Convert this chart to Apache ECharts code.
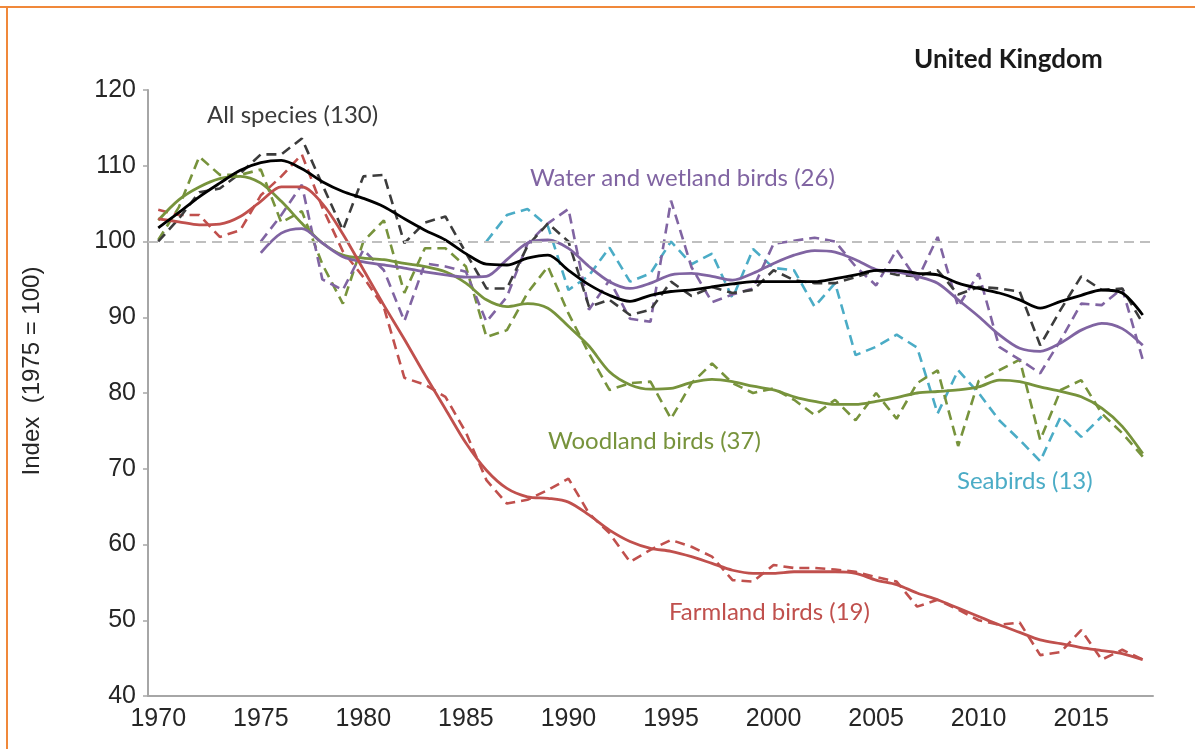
<!DOCTYPE html>
<html>
<head>
<meta charset="utf-8">
<script src="https://cdn.jsdelivr.net/npm/echarts@6/dist/echarts.min.js"></script>
<style>
html,body{margin:0;padding:0;background:#fff;}
#chart{width:1195px;height:749px;}
</style>
</head>
<body>
<div id="chart"></div>
<script>
const years = ['1970','1971','1972','1973','1974','1975','1976','1977','1978','1979',
  '1980','1981','1982','1983','1984','1985','1986','1987','1988','1989',
  '1990','1991','1992','1993','1994','1995','1996','1997','1998','1999',
  '2000','2001','2002','2003','2004','2005','2006','2007','2008','2009',
  '2010','2011','2012','2013','2014','2015','2016','2017','2018'];

const allAnnual = [100,103,106.5,107,109,111.5,111.5,113.6,107.5,101.5,
  108.6,108.8,99.8,102.5,103.3,98.5,93.8,93.8,99.4,102.4,
  100,91.4,92.3,90.3,91,94.7,92.8,94,93.2,93.6,
  96.2,94.9,94.5,94.5,95.3,96.2,95.6,95.4,96.2,93,
  94,93.8,93.4,86.3,91,95.4,93.6,93.8,89.2];
const allSmoothed = [101.8,103.8,105.9,107.7,109.4,110.4,110.7,109.6,107.9,106.6,
  105.7,104.6,103.0,101.5,100.2,98.4,97,96.9,97.8,98.2,
  96.2,94.3,92.9,92.1,92.9,93.4,93.6,94,94.4,94.7,
  94.7,94.7,94.7,95.1,95.6,96.2,96.2,95.8,95.6,94.5,
  93.8,93.2,92.3,91.2,92.1,92.9,93.6,93.2,90.3];

const farmAnnual = [104.2,103.5,103.5,100.6,101.5,106.1,108.6,111.5,104.5,98.7,
  95.3,91.3,82,81.1,79.5,74.8,68.5,65.4,65.9,67.2,
  68.7,64.1,61.5,57.7,59.3,60.6,59.7,58.4,55.3,55.1,
  57.3,56.9,56.9,56.7,56.4,55.7,55.1,51.8,52.7,51.4,
  50,49.4,49.7,45.4,45.8,48.7,44.8,46.1,44.8];
const farmSmoothed = [103,102.6,102.2,102.3,103.3,105.3,107.2,107.2,105,101,
  96.3,91.6,87.1,82.4,77.9,73.4,69.8,67.4,66.3,66.1,
  65.6,63.9,61.9,60.4,59.5,59.1,58.4,57.5,56.6,56.2,
  56.2,56.4,56.4,56.4,56.2,55.3,54.7,53.6,52.7,51.6,
  50.5,49.4,48.4,47.4,46.9,46.4,46,45.6,44.8];

const woodAnnual = [100.2,104.5,111.2,108.8,108.8,109.5,102.5,104,97,91.8,
  100,102.8,93.2,99.1,99.1,96.7,87.4,88.3,93.2,96.7,
  90.5,85.2,80.4,81.3,81.5,76.6,81.3,83.9,81.3,80,
  80.6,79.1,77.1,79.1,76.4,80,76.6,81.3,83,73,
  81.6,83,84.4,73.8,80.4,81.7,77.3,74.7,71.6];
const woodSmoothed = [102.8,105.5,107.2,108.3,108.6,107.7,105.3,102.4,99.8,98.2,
  97.8,97.6,97.1,96.7,96,94.5,92.3,91.4,91.8,91.2,
  88.8,86.2,82.8,81.1,80.5,80.6,81.4,81.8,81.5,80.9,
  80.4,79.5,78.9,78.5,78.5,78.9,79.4,80,80.2,80.4,
  80.8,81.7,81.5,80.8,80.2,79.5,78,75.6,72];

const waterAnnual = [null,null,null,null,null,100,103.5,107.5,95,93.6,
  98.9,96.2,89.5,97.1,96.7,96,89.4,92.7,99.7,102.4,
  104.3,91,94.9,89.8,89.4,105.4,96.6,92,93,93.8,
  99.7,100.1,100.5,100,96.7,94.2,98.9,94.9,100.6,91.4,
  95.8,86.1,84.4,82.6,87,91.8,91.6,93.8,84.4];
const waterSmoothed = [null,null,null,null,null,98.5,101.1,101.7,99.8,98,
  97.3,96.9,96.5,96,95.6,95.3,95.4,97.6,99.8,100.2,
  99.1,96.7,94.7,93.8,94.5,95.6,95.8,95.4,94.9,95.8,
  97.1,98.2,98.8,98.6,97.6,96.3,96,95.4,94.5,92.3,
  90.1,87.7,85.9,85.5,86.6,88.3,89.2,88.5,86.3];

const seaAnnual = [null,null,null,null,null,null,null,null,null,null,
  null,null,null,null,null,null,100,103.5,104.3,102,
  93.6,95.5,99.2,94.7,95.8,100,97,98.4,92.5,99,
  96.5,96.2,91.4,94.5,85,86.1,87.7,86,77.3,83,
  80,76.4,73.8,71,76.9,74.2,76.9,null,null];

const baselineValue = 100;
const yTicks = {min: 40, max: 120, step: 10};

const cBlack = '#000000', cBlackDash = '#3c3c3c', cRed = '#c0504d', cGreen = '#77933c',
      cPurple = '#8064a2', cCyan = '#4bacc6';
const dash = [10, 6];

function dashed(name, data, color) {
  return {name: name, type: 'line', data: data, symbol: 'none', connectNulls: false,
    lineStyle: {color: color, width: 2.6, type: dash}, itemStyle: {color: color}, z: 2};
}
function solid(name, data, color) {
  return {name: name, type: 'line', data: data, symbol: 'none', smooth: 0.3,
    lineStyle: {color: color, width: 2.8}, itemStyle: {color: color}, z: 3};
}

const chart = echarts.init(document.getElementById('chart'), null, {renderer: 'canvas'});
const labelFont = '24px Lato';
chart.setOption({
  animation: false,
  backgroundColor: '#ffffff',
  grid: {left: 148, right: 42, top: 90, bottom: 53, containLabel: false},
  xAxis: {
    type: 'category', data: years, boundaryGap: true,
    axisLine: {lineStyle: {color: '#a6a6a6', width: 2}},
    axisTick: {interval: 4, length: 6, lineStyle: {color: '#a6a6a6', width: 1.5}},
    axisLabel: {interval: 4, fontSize: 25, color: '#262626', fontFamily: 'Liberation Sans', margin: 11},
    splitLine: {show: false}
  },
  yAxis: {
    type: 'value', min: yTicks.min, max: yTicks.max, interval: yTicks.step,
    axisLine: {show: true, lineStyle: {color: '#a6a6a6', width: 2}},
    axisTick: {show: true, length: 5, lineStyle: {color: '#a6a6a6', width: 1.5}},
    axisLabel: {fontSize: 25, color: '#262626', fontFamily: 'Liberation Sans', margin: 12},
    splitLine: {show: false}
  },
  series: [
    Object.assign(dashed('Seabirds annual', seaAnnual, cCyan), {
      markLine: {silent: true, symbol: 'none', label: {show: false},
        lineStyle: {color: '#bfbfbf', width: 2, type: dash},
        data: [{yAxis: baselineValue}]}
    }),
    dashed('Woodland annual', woodAnnual, cGreen),
    dashed('Water annual', waterAnnual, cPurple),
    dashed('Farmland annual', farmAnnual, cRed),
    dashed('All annual', allAnnual, cBlackDash),
    solid('Woodland smoothed', woodSmoothed, cGreen),
    solid('Water smoothed', waterSmoothed, cPurple),
    solid('Farmland smoothed', farmSmoothed, cRed),
    solid('All smoothed', allSmoothed, cBlack)
  ],
  graphic: [
    {type: 'rect', shape: {x: 0, y: 6, width: 1195, height: 2}, style: {fill: '#f0883a'}, silent: true},
    {type: 'rect', shape: {x: 6, y: 6, width: 2, height: 743}, style: {fill: '#f0883a'}, silent: true},
    {type: 'text', x: 32, y: 371, rotation: Math.PI / 2,
      style: {text: 'Index  (1975 = 100)', font: '24px "Liberation Sans"', fill: '#262626', align: 'center', verticalAlign: 'middle'}},
    {type: 'text', x: 914, y: 60, style: {text: 'United Kingdom', font: 'bold 26px Lato', fill: '#1a1a1a', align: 'left', verticalAlign: 'middle'}},
    {type: 'text', x: 207, y: 115, style: {text: 'All species (130)', font: labelFont, fill: '#3a3a3a', align: 'left', verticalAlign: 'middle'}},
    {type: 'text', x: 530, y: 178, style: {text: 'Water and wetland birds (26)', font: labelFont, fill: cPurple, align: 'left', verticalAlign: 'middle'}},
    {type: 'text', x: 548, y: 441, style: {text: 'Woodland birds (37)', font: labelFont, fill: cGreen, align: 'left', verticalAlign: 'middle'}},
    {type: 'text', x: 957, y: 481, style: {text: 'Seabirds (13)', font: labelFont, fill: cCyan, align: 'left', verticalAlign: 'middle'}},
    {type: 'text', x: 669, y: 612, style: {text: 'Farmland birds (19)', font: labelFont, fill: cRed, align: 'left', verticalAlign: 'middle'}}
  ]
});
</script>
</body>
</html>
